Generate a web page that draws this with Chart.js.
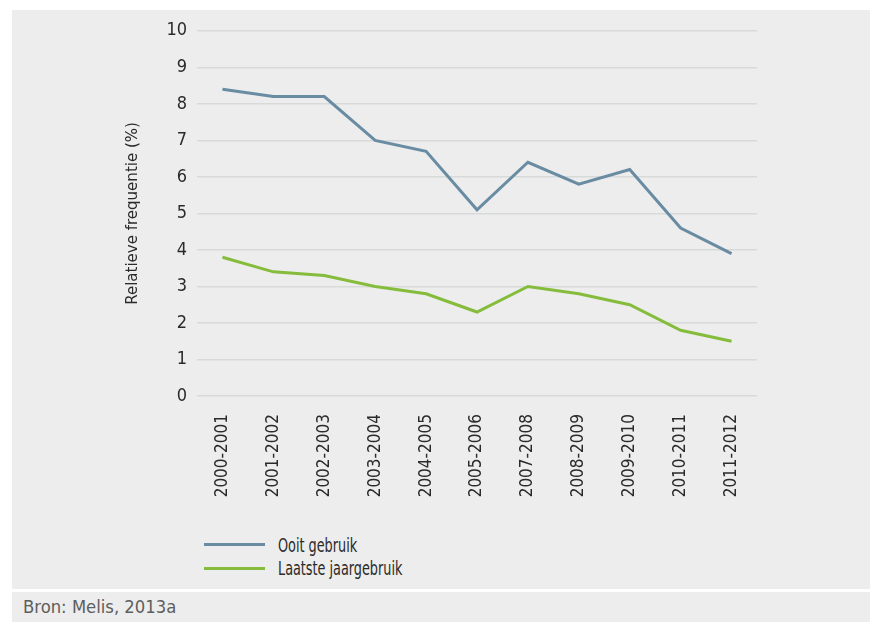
<!DOCTYPE html>
<html>
<head>
<meta charset="utf-8">
<script src="https://cdn.jsdelivr.net/npm/chart.js@4/dist/chart.umd.min.js"></script>
<style>
  html, body { margin: 0; padding: 0; background: #ffffff; width: 870px; height: 622px; overflow: hidden; }
  #panel { position: absolute; left: 12px; top: 10px; width: 858px; height: 579px; background: #ecedec; }
  #wrap { position: absolute; left: 0; top: 0; width: 858px; height: 510px; }
  #legend { position: absolute; left: 192px; top: 523px; font-family: "DejaVu Sans Condensed", "DejaVu Sans", sans-serif; font-size: 19px; color: #2a2a2a; }
  .item { height: 23.5px; display: flex; align-items: center; }
  .swatch { width: 61px; height: 3px; margin-right: 13px; }
  .lbl { display: inline-block; transform: scaleX(0.75); transform-origin: left center; white-space: nowrap; }
  #footer { position: absolute; left: 12px; top: 592px; width: 858px; height: 30px; background: #ecedec; font-family: "DejaVu Sans Condensed", "DejaVu Sans", sans-serif; font-size: 18.3px; color: #5e5e5e; }
  #footer span { position: absolute; left: 11px; top: 4px; }
</style>
</head>
<body>
<div id="panel">
  <div id="wrap"><canvas id="c" width="858" height="510"></canvas></div>
  <div id="legend"></div>
</div>
<div id="footer"><span>Bron: Melis, 2013a</span></div>
<script>
const categories = ["2000-2001","2001-2002","2002-2003","2003-2004","2004-2005","2005-2006","2007-2008","2008-2009","2009-2010","2010-2011","2011-2012"];
const ooitGebruik = [8.4, 8.2, 8.2, 7.0, 6.7, 5.1, 6.4, 5.8, 6.2, 4.6, 3.9];
const laatsteJaargebruik = [3.8, 3.4, 3.3, 3.0, 2.8, 2.3, 3.0, 2.8, 2.5, 1.8, 1.5];
const seriesNames = ["Ooit gebruik", "Laatste jaargebruik"];
const seriesColors = ["#6a8ca3", "#86bc3c"];
const yTitle = "Relatieve frequentie (%)";
const sourceText = "Bron: Melis, 2013a";

const FONT = '"DejaVu Sans Condensed", "DejaVu Sans", sans-serif';

const chart = new Chart(document.getElementById('c'), {
  type: 'line',
  data: {
    labels: categories,
    datasets: [
      { label: seriesNames[0], data: ooitGebruik, borderColor: seriesColors[0], backgroundColor: seriesColors[0], borderWidth: 3, pointRadius: 0, tension: 0 },
      { label: seriesNames[1], data: laatsteJaargebruik, borderColor: seriesColors[1], backgroundColor: seriesColors[1], borderWidth: 3, pointRadius: 0, tension: 0 }
    ]
  },
  options: {
    responsive: false,
    animation: false,
    layout: { padding: { left: 102, right: 113, top: 17, bottom: 0 } },
    plugins: { legend: { display: false }, tooltip: { enabled: false } },
    scales: {
      x: {
        offset: true,
        grid: { display: false, drawTicks: false },
        border: { display: false },
        ticks: { color: '#2a2a2a', font: { family: FONT, size: 17 }, maxRotation: 90, minRotation: 90, padding: 18, autoSkip: false },
        afterFit: (s) => { s.height = 124; }
      },
      y: {
        min: 0, max: 10,
        grid: { color: '#d8d9d9', lineWidth: 1.5, drawTicks: false },
        border: { display: false },
        ticks: { stepSize: 1, color: '#2a2a2a', font: { family: FONT, size: 18 }, padding: 10 },
        title: { display: true, text: yTitle, color: '#2a2a2a', font: { family: FONT, size: 16.7 }, padding: { top: 9, bottom: 0 } },
        afterFit: (s) => { s.width = 83; }
      }
    }
  }
});

const legend = document.getElementById('legend');
chart.data.datasets.forEach(ds => {
  const item = document.createElement('div');
  item.className = 'item';
  const sw = document.createElement('div');
  sw.className = 'swatch';
  sw.style.background = ds.borderColor;
  const t = document.createElement('span');
  t.className = 'lbl';
  t.textContent = ds.label;
  item.appendChild(sw); item.appendChild(t);
  legend.appendChild(item);
});
document.querySelector('#footer span').textContent = sourceText;
</script>
</body>
</html>
